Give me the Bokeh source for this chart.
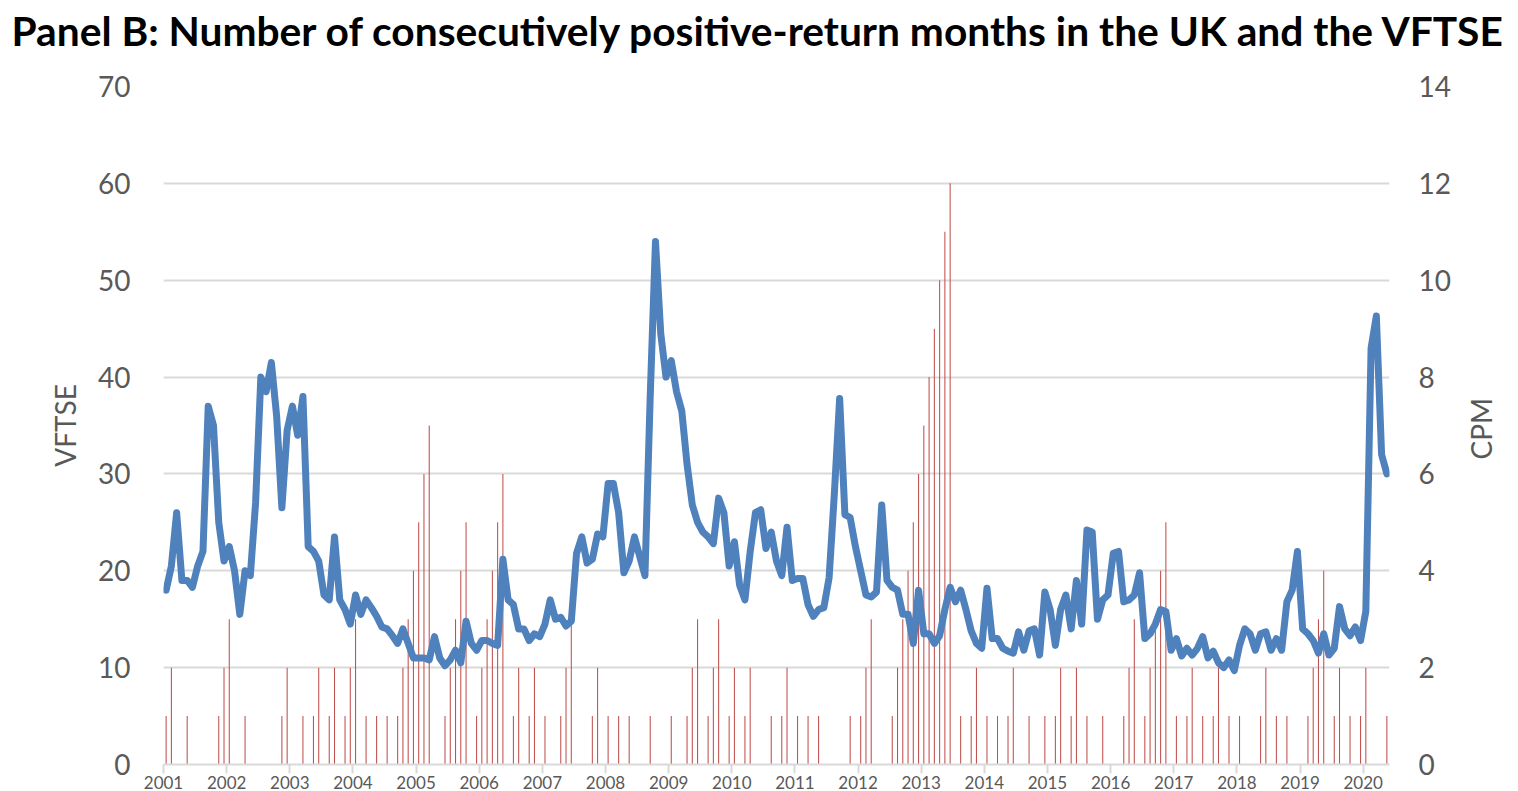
import numpy as np
from math import pi
from bokeh.plotting import figure
from bokeh.models import Range1d, LinearAxis, FixedTicker, ColumnDataSource, Title
from bokeh.embed import file_html
from bokeh.resources import INLINE

# ---------------- data (monthly, Jan 2001 - May 2020) ----------------
year_labels = [str(y) for y in range(2001, 2021)]

vftse = [
    18, 20.5, 26, 19, 19, 18.3, 20.5, 22, 37, 35, 25, 21,            # 2001
    22.5, 20, 15.5, 20, 19.5, 27, 40, 38.5, 41.5, 36, 26.5, 34.5,    # 2002
    37, 34, 38, 22.5, 22, 21, 17.5, 17, 23.5, 17, 16, 14.5,          # 2003
    17.5, 15.5, 17, 16.2, 15.3, 14.2, 14, 13.3, 12.5, 14, 12.5, 11,  # 2004
    11, 11, 10.8, 13.2, 11, 10.2, 10.8, 11.8, 10.5, 14.8, 12.5, 11.8,  # 2005
    12.8, 12.8, 12.5, 12.3, 21.2, 17, 16.5, 14, 14, 12.8, 13.5, 13.2,  # 2006
    14.5, 17, 15, 15.2, 14.3, 14.8, 21.8, 23.5, 20.8, 21.2, 23.8, 23.5,  # 2007
    29, 29, 26, 19.8, 21, 23.5, 21.5, 19.5, 38, 54, 44.5, 40,        # 2008
    41.7, 38.5, 36.5, 31, 26.8, 25, 24, 23.5, 22.8, 27.5, 26, 20.5,  # 2009
    23, 18.5, 17, 22, 26, 26.3, 22.3, 24, 21, 19.5, 24.5, 19,        # 2010
    19.2, 19.2, 16.5, 15.3, 16, 16.2, 19.3, 28, 37.8, 25.8, 25.5, 22.5,  # 2011
    20, 17.5, 17.3, 17.8, 26.8, 19, 18.3, 18, 15.5, 15.5, 12.5, 18,  # 2012
    13.5, 13.5, 12.5, 13.3, 16, 18.3, 16.8, 18, 16, 13.8, 12.5, 12,  # 2013
    18.2, 13, 13, 12, 11.7, 11.5, 13.7, 11.8, 13.8, 14, 11.3, 17.8,  # 2014
    16, 12.3, 16, 17.5, 14, 19, 14.5, 24.2, 24, 15, 17, 17.5,        # 2015
    21.8, 22, 16.8, 17, 17.5, 19.8, 13, 13.5, 14.5, 16, 15.8, 11.8,  # 2016
    13, 11.2, 12, 11.3, 12, 13.2, 11, 11.7, 10.5, 10, 10.8, 9.7,     # 2017
    12.3, 14, 13.5, 11.8, 13.5, 13.7, 11.8, 13, 11.8, 16.8, 18, 22,  # 2018
    14, 13.5, 12.8, 11.5, 13.5, 11.3, 12, 16.3, 14, 13.3, 14.2, 12.8,  # 2019
    15.8, 43, 46.3, 32, 30,                                          # 2020
]

cpm = [
    1, 2, 0, 0, 1, 0, 0, 0, 0, 0, 1, 2,    # 2001
    3, 0, 0, 1, 0, 0, 0, 0, 0, 0, 1, 2,    # 2002
    0, 0, 1, 0, 1, 2, 0, 1, 2, 0, 1, 2,    # 2003
    3, 0, 1, 0, 1, 0, 1, 0, 1, 2, 3, 4,    # 2004
    5, 6, 7, 0, 0, 1, 2, 3, 4, 5, 0, 1,    # 2005
    2, 3, 4, 5, 6, 0, 1, 2, 0, 1, 2, 0,    # 2006
    1, 0, 0, 1, 2, 3, 0, 0, 0, 1, 2, 0,    # 2007
    1, 0, 1, 0, 1, 0, 0, 0, 1, 0, 0, 0,    # 2008
    1, 0, 0, 1, 2, 3, 0, 1, 2, 3, 0, 1,    # 2009
    2, 0, 1, 2, 0, 0, 0, 1, 0, 1, 2, 0,    # 2010
    1, 0, 1, 0, 1, 0, 0, 0, 0, 0, 1, 0,    # 2011
    1, 2, 3, 0, 0, 0, 1, 2, 3, 4, 5, 6,    # 2012
    7, 8, 9, 10, 11, 12, 0, 1, 0, 1, 2, 0,  # 2013
    1, 0, 1, 0, 1, 2, 0, 0, 1, 0, 0, 1,    # 2014
    0, 1, 2, 0, 1, 2, 0, 1, 0, 0, 1, 0,    # 2015
    0, 0, 1, 2, 3, 0, 1, 2, 3, 4, 5, 0,    # 2016
    1, 0, 1, 2, 0, 1, 0, 1, 2, 0, 1, 0,    # 2017
    1, 0, 0, 0, 1, 2, 0, 1, 0, 1, 0, 0,    # 2018
    0, 1, 2, 3, 4, 0, 1, 2, 0, 1, 0, 1,    # 2019
    2, 0, 0, 0, 1,                         # 2020
]

title_text = "Panel B: Number of consecutively positive-return months in the UK and the VFTSE"

# ---------------- figure ----------------
n = len(vftse)
xs = np.arange(n) + 0.5
src = ColumnDataSource(dict(x=xs, vftse=vftse, cpm=cpm))

GRID = "#D9D9D9"
TXT = "#595959"
FONT = "Lato"

p = figure(width=1518, height=791, output_backend="svg", toolbar_location=None,
           title=None,
           x_range=Range1d(0, n), y_range=Range1d(0, 70),
           min_border_left=163, min_border_right=129, min_border_top=20,
           min_border_bottom=10)
p.outline_line_color = None
p.background_fill_color = "white"
p.border_fill_color = "white"

# spacer title (closest to the frame) and the real title above it
p.add_layout(Title(text=" ", text_font_size="11.2px", text_font=FONT), "above")
p.add_layout(Title(text=title_text, align="left", offset=-152, vertical_align="top",
                   text_font=FONT, text_font_style="bold", text_font_size="40.7px",
                   text_color="black"), "above")

p.extra_y_ranges = {"cpm": Range1d(0, 14)}

# grid
p.xgrid.visible = False
p.ygrid.ticker = FixedTicker(ticks=list(range(0, 71, 10)))
p.ygrid.grid_line_color = GRID
p.ygrid.grid_line_width = 2

# left axis
ya = p.yaxis[0]
ya.ticker = FixedTicker(ticks=list(range(0, 71, 10)))
ya.axis_line_color = None
ya.major_tick_line_color = None
ya.minor_tick_line_color = None
ya.major_label_text_font = FONT
ya.major_label_text_font_size = "28px"
ya.major_label_text_color = TXT
ya.major_label_standoff = 27
ya.axis_label = "VFTSE"
ya.axis_label_text_font = FONT
ya.axis_label_text_font_size = "28px"
ya.axis_label_text_font_style = "normal"
ya.axis_label_text_color = TXT
ya.axis_label_standoff = 13

# right axis (CPM values)
ra = LinearAxis(y_range_name="cpm", ticker=FixedTicker(ticks=list(range(0, 15, 2))))
ra.axis_line_color = None
ra.major_tick_line_color = None
ra.minor_tick_line_color = None
ra.major_label_text_font = FONT
ra.major_label_text_font_size = "28px"
ra.major_label_text_color = TXT
ra.major_label_standoff = 23
p.add_layout(ra, "right")

# right axis title "CPM", reading bottom-to-top like the left title
cpm_title_pos = 6.3
ra2 = LinearAxis(y_range_name="cpm", ticker=FixedTicker(ticks=[cpm_title_pos]))
ra2.major_label_overrides = {cpm_title_pos: "CPM"}
ra2.major_label_orientation = pi / 2
ra2.axis_line_color = None
ra2.major_tick_line_color = None
ra2.minor_tick_line_color = None
ra2.major_label_text_font = FONT
ra2.major_label_text_font_size = "28px"
ra2.major_label_text_color = TXT
ra2.major_label_standoff = 22
p.add_layout(ra2, "right")

# bottom axis with year labels
xa = p.xaxis[0]
xa.ticker = FixedTicker(ticks=list(range(0, n, 12)))
xa.major_label_overrides = {12 * k: lab for k, lab in enumerate(year_labels)}
xa.axis_line_color = GRID
xa.axis_line_width = 2
xa.major_tick_line_color = GRID
xa.major_tick_line_width = 2
xa.major_tick_out = 9
xa.major_tick_in = 0
xa.minor_tick_line_color = None
xa.major_label_text_font = FONT
xa.major_label_text_font_size = "17px"
xa.major_label_text_color = TXT
xa.major_label_standoff = 2

# bars (CPM) and line (VFTSE)
p.vbar(x="x", top="cpm", width=0.2, bottom=0, source=src, y_range_name="cpm",
       fill_color="#C0504D", line_color=None)
p.line(x="x", y="vftse", source=src, line_width=7, line_color="#4F81BD",
       line_join="round", line_cap="round")

open("out.html", "w").write(file_html(p, INLINE))
